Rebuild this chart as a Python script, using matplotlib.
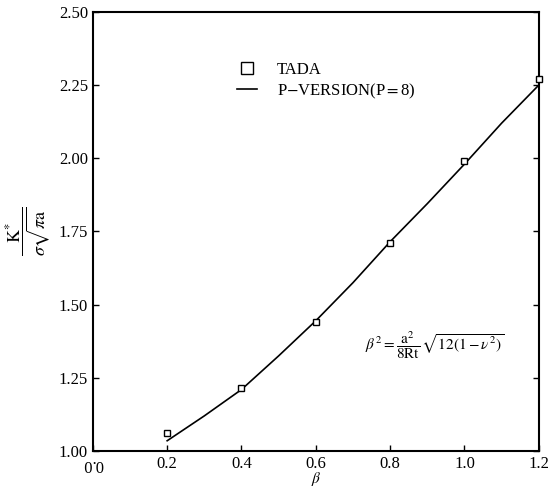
import numpy as np
import matplotlib.pyplot as plt

plt.rcParams['font.family'] = 'Liberation Serif'
plt.rcParams['mathtext.fontset'] = 'stix'

# TADA reference points
beta_tada = [0.2, 0.4, 0.6, 0.8, 1.0, 1.2]
k_tada = [1.06, 1.215, 1.44, 1.71, 1.99, 2.27]

# p-version (P=8) curve
beta_p = [0.2, 0.3, 0.4, 0.5, 0.6, 0.7, 0.8, 0.9, 1.0, 1.1, 1.2]
k_p = [1.035, 1.12, 1.21, 1.325, 1.445, 1.575, 1.715, 1.845, 1.98, 2.12, 2.25]

xticks = [0.0, 0.2, 0.4, 0.6, 0.8, 1.0, 1.2]
yticks = [1.00, 1.25, 1.50, 1.75, 2.00, 2.25, 2.50]

fig = plt.figure(figsize=(5.56, 4.9), dpi=100)
ax = fig.add_axes([0.167, 0.0796, 0.802, 0.896])

ax.plot(beta_tada, k_tada, 's', mfc='white', mec='black', ms=4, mew=1.0,
        label='TADA', clip_on=False, zorder=3)
ax.plot(beta_p, k_p, '-', color='black', lw=1.2, label='P$-$VERSION(P$=$8)')

ax.set_xlim(0.0, 1.2)
ax.set_ylim(1.0, 2.5)
ax.set_xticks(xticks)
ax.set_xticklabels(['%.1f' % t for t in xticks])
ax.set_yticks(yticks)
ax.set_yticklabels(['%.2f' % t for t in yticks])
ax.xaxis.get_ticklabels()[0].set_rotation(180)
ax.tick_params(direction='in', length=4, width=1, labelsize=12, right=True, top=False)
for s in ax.spines.values():
    s.set_linewidth(1.5)

ax.set_xlabel(r'$\beta$', fontsize=11, labelpad=-1)
ax.set_ylabel(r'$\dfrac{\mathrm{K}^{*}}{\sigma\sqrt{\pi \mathrm{a}}}$', fontsize=13, labelpad=4)

ax.legend(loc='upper left', bbox_to_anchor=(0.29, 0.92), frameon=False,
          fontsize=12, handlelength=1.2, handletextpad=1.2, labelspacing=0.2,
          markerscale=2.0)

ax.text(0.61, 0.23, r'$\beta^2=\dfrac{\mathrm{a}^2}{8\mathrm{Rt}}\,\sqrt{12(1-\nu^2)}$',
        transform=ax.transAxes, fontsize=11)

fig.savefig('out.png', dpi=100)
